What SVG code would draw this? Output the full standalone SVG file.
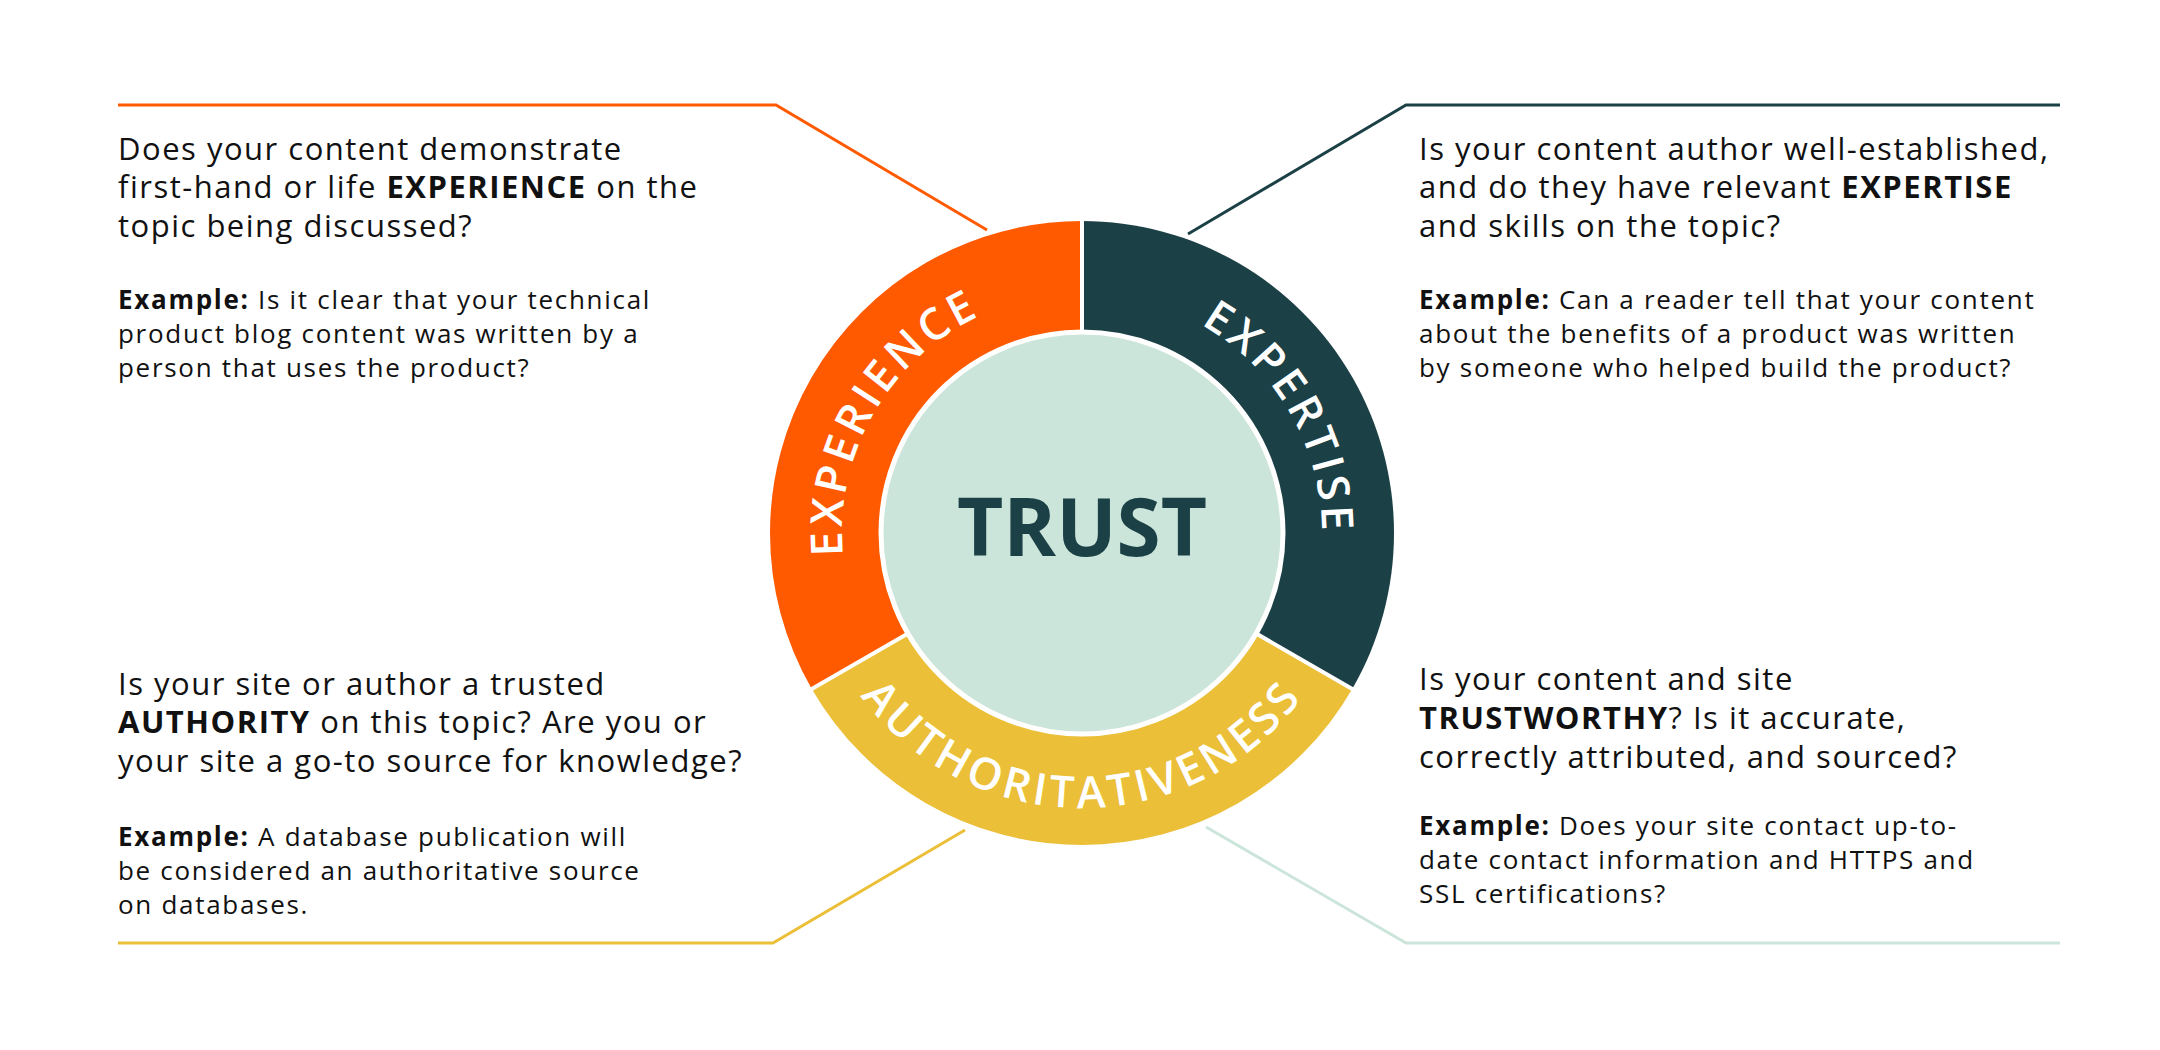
<svg xmlns="http://www.w3.org/2000/svg" width="2160" height="1050" viewBox="0 0 2160 1050">
<style>
.q{font-family:"Open Sans","Liberation Sans",sans-serif;font-size:31px;letter-spacing:1.5px;fill:#111}
.e{font-family:"Open Sans","Liberation Sans",sans-serif;font-size:26px;letter-spacing:1.7px;fill:#111}
.b{font-weight:700}
.ring{font-family:"Open Sans","Liberation Sans",sans-serif;font-size:44px;font-weight:600;fill:#fff;letter-spacing:4px}
.ld{fill:none;stroke-width:3}
</style>
<defs>
<path id="pEx" d="M874.2 653 A240 240 0 0 1 1082 293"/>
<path id="pEt" d="M1082 293 A240 240 0 0 1 1289.8 653"/>
<path id="pAu" d="M843.8 670.5 A275 275 0 0 0 1320.2 670.5"/>
</defs>
<rect width="2160" height="1050" fill="#fff"/>
<g id="connectors">
<polyline class="ld" stroke="#FF5A00" points="118,105 776,105 987,230"/>
<polyline class="ld" stroke="#1B4046" points="1188,234 1406,105 2060,105"/>
<polyline class="ld" stroke="#EBBF38" points="965,830 773,943 118,943"/>
<polyline class="ld" stroke="#CCE5DA" points="1206,827 1406,943 2060,943"/>
</g>
<g id="wheel">
<path d="M1082 533 L811.8 689 A312 312 0 0 1 1082 221 Z" fill="#FF5A00"/>
<path d="M1082 533 L1082 221 A312 312 0 0 1 1352.2 689 Z" fill="#1B4046"/>
<path d="M1082 533 L1352.2 689 A312 312 0 0 1 811.8 689 Z" fill="#EBBF38"/>
<g stroke="#fff" stroke-width="4">
<line x1="1082" y1="533" x2="1082" y2="219"/>
<line x1="1082" y1="533" x2="1354" y2="690"/>
<line x1="1082" y1="533" x2="810" y2="690"/>
</g>
<circle cx="1082" cy="533" r="201" fill="#CCE5DA" stroke="#fff" stroke-width="5"/>
<text class="ring"><textPath href="#pEx" startOffset="50%" text-anchor="middle">EXPERIENCE</textPath></text>
<text class="ring"><textPath href="#pEt" startOffset="50%" text-anchor="middle">EXPERTISE</textPath></text>
<text class="ring"><textPath href="#pAu" startOffset="50%" text-anchor="middle">AUTHORITATIVENESS</textPath></text>
<text x="1082" y="556" text-anchor="middle" font-family="'Open Sans','Liberation Sans',sans-serif" font-weight="700" font-size="80" fill="#1B4046">TRUST</text>
</g>
<g id="experience">
<text class="q" x="118" y="160">Does your content demonstrate</text>
<text class="q" x="118" y="198">first-hand or life <tspan class="b">EXPERIENCE</tspan> on the</text>
<text class="q" x="118" y="237">topic being discussed?</text>
<text class="e" x="118" y="309"><tspan class="b">Example:</tspan> Is it clear that your technical</text>
<text class="e" x="118" y="343">product blog content was written by a</text>
<text class="e" x="118" y="377">person that uses the product?</text>
</g>
<g id="expertise">
<text class="q" x="1419" y="160">Is your content author well-established,</text>
<text class="q" x="1419" y="198">and do they have relevant <tspan class="b">EXPERTISE</tspan></text>
<text class="q" x="1419" y="237">and skills on the topic?</text>
<text class="e" x="1419" y="309"><tspan class="b">Example:</tspan> Can a reader tell that your content</text>
<text class="e" x="1419" y="343">about the benefits of a product was written</text>
<text class="e" x="1419" y="377">by someone who helped build the product?</text>
</g>
<g id="authority">
<text class="q" x="118" y="695">Is your site or author a trusted</text>
<text class="q" x="118" y="733"><tspan class="b">AUTHORITY</tspan> on this topic? Are you or</text>
<text class="q" x="118" y="772">your site a go-to source for knowledge?</text>
<text class="e" x="118" y="846"><tspan class="b">Example:</tspan> A database publication will</text>
<text class="e" x="118" y="880">be considered an authoritative source</text>
<text class="e" x="118" y="914">on databases.</text>
</g>
<g id="trust">
<text class="q" x="1419" y="690">Is your content and site</text>
<text class="q" x="1419" y="729"><tspan class="b">TRUSTWORTHY</tspan>? Is it accurate,</text>
<text class="q" x="1419" y="768">correctly attributed, and sourced?</text>
<text class="e" x="1419" y="835"><tspan class="b">Example:</tspan> Does your site contact up-to-</text>
<text class="e" x="1419" y="869">date contact information and HTTPS and</text>
<text class="e" x="1419" y="903">SSL certifications?</text>
</g>
</svg>
